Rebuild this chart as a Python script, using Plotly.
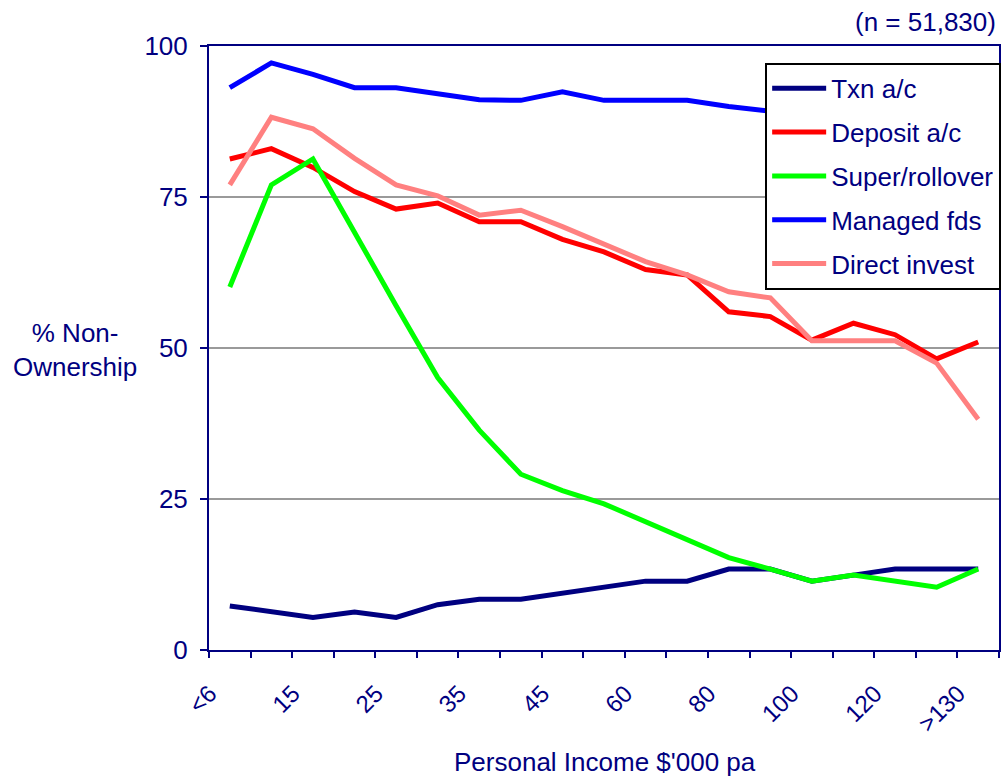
import plotly.graph_objects as go

# Income bands ($'000 pa)
income_bands = ["<6", "10", "15", "20", "25", "30", "35", "40", "45", "50",
                "60", "70", "80", "90", "100", "110", "120", "130", ">130"]

# % non-ownership by product type
txn_ac = [7.3, 6.3, 5.4, 6.3, 5.4, 7.5, 8.4, 8.4, 9.4, 10.4,
          11.4, 11.4, 13.4, 13.4, 11.4, 12.4, 13.4, 13.4, 13.4]
deposit_ac = [81.3, 83.0, 79.9, 75.9, 73.0, 74.0, 70.9, 70.9, 68.0, 65.9,
              63.0, 62.1, 56.0, 55.2, 51.3, 54.1, 52.2, 48.2, 51.0]
super_rollover = [60.1, 77.0, 81.3, 69.0, 57.0, 45.1, 36.4, 29.1, 26.4, 24.2,
                  21.2, 18.1, 15.3, 13.4, 11.4, 12.4, 11.3, 10.4, 13.4]
managed_fds = [93.1, 97.2, 95.3, 93.1, 93.1, 92.2, 91.1, 91.0, 92.4, 91.0,
               91.0, 91.0, 90.0, 89.2, 89.0, 88.5, 88.0, 87.5, 87.0]
direct_invest = [77.0, 88.2, 86.3, 81.4, 77.0, 75.2, 72.0, 72.8, 70.1, 67.2,
                 64.3, 62.1, 59.3, 58.3, 51.2, 51.2, 51.2, 47.5, 38.2]

series = [
    ("Txn a/c", txn_ac, "#000080"),
    ("Deposit a/c", deposit_ac, "#FF0000"),
    ("Super/rollover", super_rollover, "#00FF00"),
    ("Managed fds", managed_fds, "#0000FF"),
    ("Direct invest", direct_invest, "#FF8080"),
]

NAVY = "#000080"
FONT = "Liberation Sans, Arial, sans-serif"
xs = list(range(len(income_bands)))

fig = go.Figure()
for name, vals, color in series:
    fig.add_trace(go.Scatter(
        x=xs, y=vals, name=name, mode="lines",
        line=dict(color=color, width=5),
        legendgroup=name,
    ))

L, R, T, B = 209, 5, 46, 128
fig.update_layout(
    width=1004, height=778,
    margin=dict(l=L, r=R, t=T, b=B, autoexpand=False),
    paper_bgcolor="white", plot_bgcolor="white",
    font=dict(family=FONT, size=26, color=NAVY),
    showlegend=True,
    legend=dict(
        x=0.704, y=0.972, xanchor="left", yanchor="top",
        bgcolor="white", bordercolor="black", borderwidth=2,
        font=dict(family=FONT, size=26, color=NAVY),
        tracegroupgap=7, itemwidth=54,
    ),
)

fig.update_xaxes(
    range=[-0.5, len(income_bands) - 0.5],
    tickmode="array",
    tickvals=xs[::2], ticktext=income_bands[::2],
    tickangle=-45, ticks="",
    tickfont=dict(family=FONT, size=24, color=NAVY),
    ticklabelshift=-20, ticklabelstandoff=18,
    showgrid=False, zeroline=False, automargin=False,
    showline=True, linecolor=NAVY, linewidth=2, mirror=True,
    minor=dict(tickmode="linear", tick0=-0.5, dtick=1, ticks="outside",
               ticklen=6, tickwidth=2, tickcolor=NAVY, showgrid=False),
)
fig.update_yaxes(
    range=[0, 100], tickmode="linear", tick0=0, dtick=25,
    ticks="outside", ticklen=7, tickwidth=2, tickcolor=NAVY,
    tickfont=dict(family=FONT, size=26, color=NAVY),
    ticklabelstandoff=7, automargin=False,
    showgrid=True, gridcolor="#9a9a9a", gridwidth=1.5, zeroline=False,
    showline=True, linecolor=NAVY, linewidth=2, mirror=True,
)

fig.add_annotation(
    text="% Non-<br>Ownership", xref="paper", yref="paper",
    x=(75 - L) / 790, y=(650 - 350) / 604, xanchor="center", yanchor="middle",
    showarrow=False, font=dict(family=FONT, size=26, color=NAVY),
)
fig.add_annotation(
    text="Personal Income $'000 pa", xref="paper", yref="paper",
    x=(605 - L) / 790, y=(650 - 762) / 604, xanchor="center", yanchor="middle",
    showarrow=False, font=dict(family=FONT, size=26, color=NAVY),
)
fig.add_annotation(
    text="(n = 51,830)", xref="paper", yref="paper",
    x=(998 - L) / 790, y=(650 - 22) / 604, xanchor="right", yanchor="middle",
    showarrow=False, font=dict(family=FONT, size=26, color=NAVY),
)

fig.write_html("out.html")
